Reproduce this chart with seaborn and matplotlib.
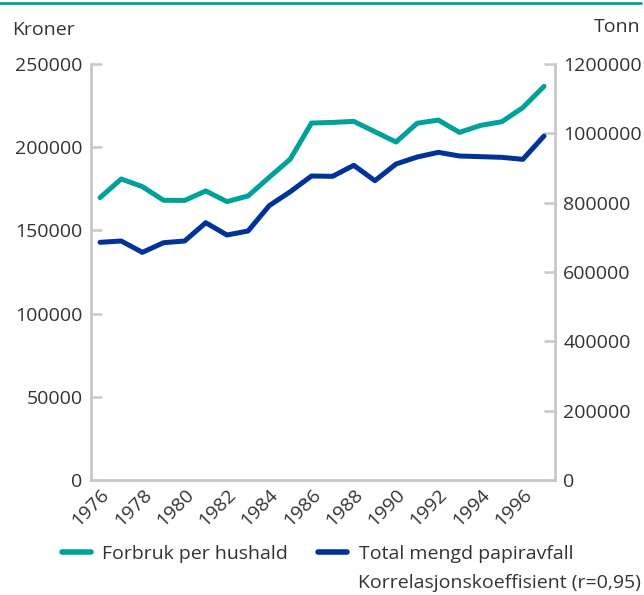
import matplotlib
matplotlib.use('Agg')
import matplotlib.pyplot as plt
import seaborn as sns
import pandas as pd
from matplotlib.lines import Line2D
from matplotlib.ticker import FuncFormatter

# data
years = list(range(1976, 1998))
forbruk = [169700, 180900, 176300, 168100, 168000, 173700, 167300, 170700,
           181900, 192900, 214500, 214900, 215500, 209300, 203100, 214400,
           216300, 208900, 213100, 215300, 223800, 236600]
papiravfall = [685600, 689400, 656700, 684500, 689400, 742200, 706700, 718300,
               791300, 831700, 876900, 876000, 907700, 863400, 911500, 931700,
               945200, 934600, 932700, 930800, 925000, 992300]
left_ticks = [0, 50000, 100000, 150000, 200000, 250000]
right_ticks = [0, 200000, 400000, 600000, 800000, 1000000, 1200000]

teal = '#00a19a'
blue = '#003399'
grey = '#c8c8c8'
txt = '#333333'

sns.set_style('white')
plt.rcParams['font.family'] = ['Open Sans', 'DejaVu Sans']

df = pd.DataFrame({'year': years, 'forbruk': forbruk, 'papir': papiravfall})

fig = plt.figure(figsize=(6.44, 5.95), dpi=100)
ax = fig.add_axes([91 / 644, 1 - 480 / 595, 464 / 644, 416 / 595])
ax2 = ax.twinx()

sns.lineplot(data=df, x='year', y='forbruk', ax=ax, color=teal, lw=3.6, legend=False)
sns.lineplot(data=df, x='year', y='papir', ax=ax2, color=blue, lw=3.6, legend=False)

ax.set_xlim(1975.57, 1997.52)
ax.set_ylim(0, 250000)
ax2.set_ylim(0, 1200000)
ax.set_yticks(left_ticks)
ax2.set_yticks(right_ticks)
ax.set_xticks(years)
ax.set_xticklabels([str(y) if y % 2 == 0 else '' for y in years],
                   rotation=45, ha='right', rotation_mode='anchor')
fmt = FuncFormatter(lambda v, p: f'{v:.0f}')
ax.yaxis.set_major_formatter(fmt)
ax2.yaxis.set_major_formatter(fmt)
for a in (ax, ax2):
    a.set_xlabel('')
    a.set_ylabel('')
    a.tick_params(direction='in', length=8, width=1.8, color=grey,
                  labelsize=14, labelcolor=txt, pad=6)
    for s in a.spines.values():
        s.set_color(grey)
        s.set_linewidth(2)
    a.spines['top'].set_visible(False)
ax.spines['right'].set_visible(False)
ax2.spines['left'].set_visible(False)
ax2.spines['bottom'].set_visible(False)
ax.tick_params(axis='x', pad=4)

handles = [Line2D([], [], color=teal, lw=4), Line2D([], [], color=blue, lw=4)]
fig.legend(handles, ['Forbruk per hushald', 'Total mengd papiravfall'],
           loc='center left', bbox_to_anchor=(62 / 644, 1 - 554 / 595), ncol=2,
           frameon=False, fontsize=14, handlelength=1.5, handletextpad=0.57,
           columnspacing=1.55, borderpad=0, borderaxespad=0, labelcolor=txt)
fig.text(358 / 644, 1 - 583 / 595, 'Korrelasjonskoeffisient (r=0,95)',
         fontsize=14, color=txt, va='center')
fig.text(12 / 644, 1 - 30 / 595, 'Kroner', fontsize=14, color=txt, va='center')
fig.text(640 / 644, 1 - 27 / 595, 'Tonn', fontsize=14, color=txt, va='center', ha='right')
fig.add_artist(Line2D([0, 0.995], [1 - 3 / 595] * 2, color=teal, lw=2))

fig.savefig('out.png', dpi=100)
